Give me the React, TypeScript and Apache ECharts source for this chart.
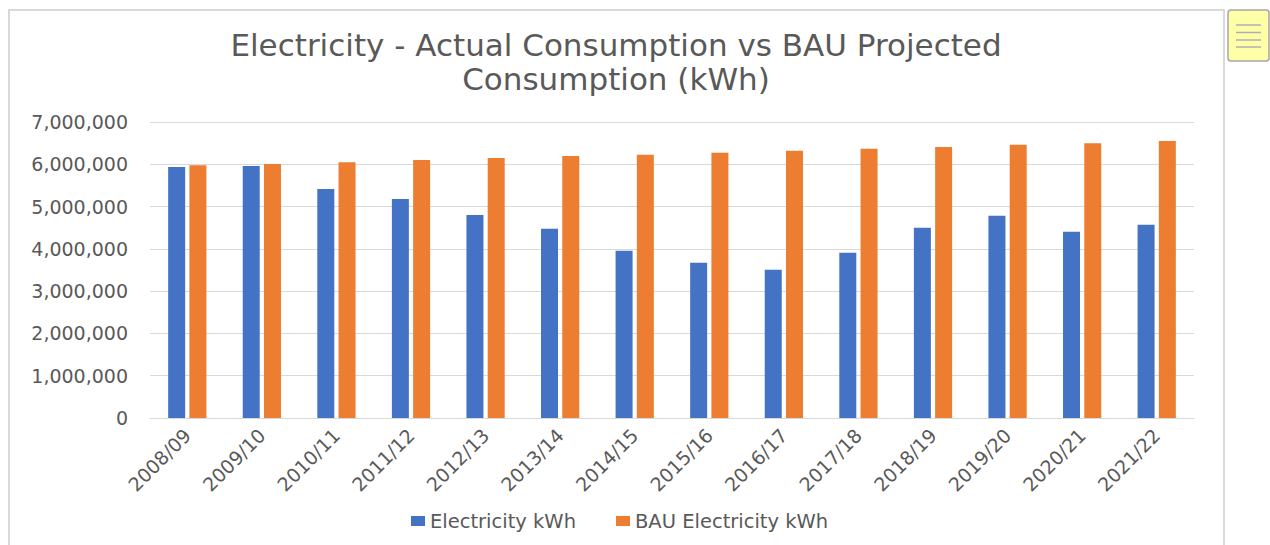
import React, { useEffect, useRef } from "react";
import * as echarts from "echarts";

const categories = [
  "2008/09", "2009/10", "2010/11", "2011/12", "2012/13", "2013/14", "2014/15",
  "2015/16", "2016/17", "2017/18", "2018/19", "2019/20", "2020/21", "2021/22",
];
const electricity = [
  5935000, 5960000, 5415000, 5180000, 4800000, 4476000, 3956000,
  3672000, 3507000, 3909000, 4500000, 4784000, 4405000, 4571000,
];
const bauElectricity = [
  5980000, 6005000, 6050000, 6100000, 6150000, 6195000, 6226000,
  6273000, 6320000, 6368000, 6410000, 6463000, 6500000, 6550000,
];
const titleLines = ["Electricity - Actual Consumption vs BAU Projected", "Consumption (kWh)"];
const seriesNames = ["Electricity kWh", "BAU Electricity kWh"];

const FONT = "'DejaVu Sans', sans-serif";
const TEXT = "#595959";

export default function App() {
  const ref = useRef<HTMLDivElement>(null);
  useEffect(() => {
    if (!ref.current) return;
    const chart = echarts.init(ref.current, undefined, { renderer: "svg" });
    chart.setOption({
      animation: false,
      backgroundColor: "#ffffff",
      title: {
        text: titleLines.join("\n"),
        left: 616,
        textAlign: "center",
        top: 28,
        padding: 0,
        textStyle: {
          fontFamily: FONT,
          fontSize: 31,
          fontWeight: "normal",
          color: TEXT,
          lineHeight: 34,
        },
      },
      legend: {
        data: seriesNames,
        bottom: 14,
        left: 411,
        itemWidth: 14,
        itemHeight: 10,
        itemGap: 40,
        icon: "rect",
        padding: 0,
        textStyle: { fontFamily: FONT, fontSize: 19.5, color: TEXT },
      },
      grid: { left: 150, right: 76, top: 122, bottom: 127, containLabel: false },
      xAxis: {
        type: "category",
        data: categories,
        axisLine: { lineStyle: { color: "#d9d9d9", width: 1 } },
        axisTick: { show: false },
        axisLabel: {
          rotate: 45,
          interval: 0,
          fontFamily: FONT,
          fontSize: 19,
          color: TEXT,
          margin: 14,
        },
      },
      yAxis: {
        type: "value",
        min: 0,
        max: 7000000,
        interval: 1000000,
        axisLine: { show: false },
        axisTick: { show: false },
        splitLine: { lineStyle: { color: "#d9d9d9", width: 1 } },
        axisLabel: {
          fontFamily: FONT,
          fontSize: 19,
          color: TEXT,
          margin: 22,
          formatter: (v: number) => v.toLocaleString("en-US"),
        },
      },
      series: [
        {
          name: seriesNames[0],
          type: "bar",
          data: electricity,
          barWidth: 17,
          barGap: "25%",
          itemStyle: { color: "#4472c4" },
        },
        {
          name: seriesNames[1],
          type: "bar",
          data: bauElectricity,
          barWidth: 17,
          itemStyle: { color: "#ed7d31" },
        },
      ],
      graphic: [
        {
          type: "rect",
          shape: { x: 9, y: 10, width: 1215, height: 560 },
          style: { fill: "none", stroke: "#d9d9d9", lineWidth: 2 },
          silent: true,
          z: -10,
        },
        {
          type: "rect",
          shape: { x: 1228, y: 10, width: 41, height: 51, r: 3 },
          style: { fill: "#ffffa8", stroke: "#a6a6a6", lineWidth: 1.5 },
        },
        ...[25, 32.5, 40, 47].map((y) => ({
          type: "line",
          shape: { x1: 1236, y1: y, x2: 1261, y2: y },
          style: { stroke: "#b0b0b0", lineWidth: 1.5 },
        })),
      ],
    });
    return () => chart.dispose();
  }, []);
  return <div ref={ref} style={{ width: 1270, height: 545, position: "absolute", left: 0, top: 0 }} />;
}
